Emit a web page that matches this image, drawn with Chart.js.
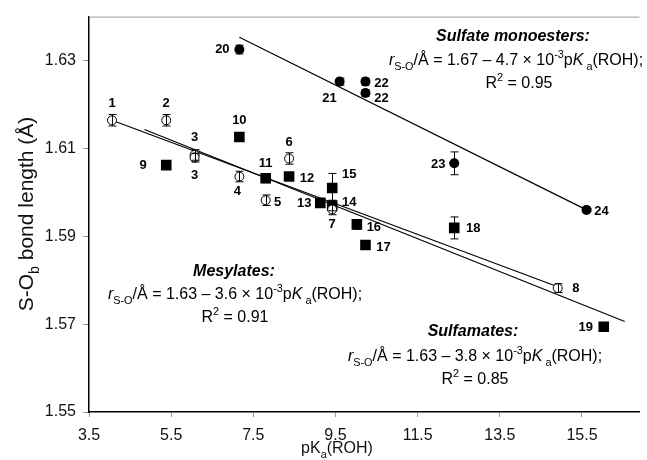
<!DOCTYPE html>
<html><head><meta charset="utf-8">
<script src="https://cdn.jsdelivr.net/npm/chart.js@4.4.1/dist/chart.umd.min.js"></script>
<style>html,body{margin:0;padding:0;background:#fff}#wrap{width:647px;height:460px;position:relative}</style>
</head><body><div id="wrap"><canvas id="c"></canvas></div>
<script>
// ---- data ----
const xTicks = [3.5, 5.5, 7.5, 9.5, 11.5, 13.5, 15.5];
const yTicks = [1.55, 1.57, 1.59, 1.61, 1.63];

// Mesylates (open circles)
const mesLabels = ['1','2','3','3','4','5','6','7','8'];
const mesPKa    = [4.06, 5.38, 6.07, 6.07, 7.16, 7.80, 8.37, 9.42, 14.91];
const mesLen    = [1.6164, 1.6164, 1.6085, 1.6079, 1.6036, 1.5982, 1.6077, 1.5961, 1.5782];
const mesErr    = [0.0013, 0.0013, 0.0012, 0.0010, 0.0012, 0.0012, 0.0013, 0.0012, 0.0010];

// Sulfamates (filled squares)
const sfaLabels = ['9','10','11','12','13','14','15','16','17','18','19'];
const sfaPKa    = [5.38, 7.16, 7.80, 8.37, 9.13, 9.42, 9.42, 10.02, 10.23, 12.39, 16.03];
const sfaLen    = [1.6062, 1.6126, 1.6032, 1.6036, 1.5976, 1.5970, 1.6010, 1.5927, 1.5880, 1.5919, 1.5694];
const sfaErr    = [0.0005, 0.0008, 0.0010, 0.0007, 0.0010, 0.0012, 0.0033, 0.0011, 0.0005, 0.0025, 0.0005];

// Sulfate monoesters (filled circles)
const sulLabels = ['20','21','22','22','23','24'];
const sulPKa    = [7.16, 9.60, 10.23, 10.23, 12.39, 15.61];
const sulLen    = [1.6325, 1.6252, 1.6252, 1.6226, 1.6066, 1.5960];
const sulErr    = [0.0010, 0.0008, 0.0008, 0.0008, 0.0026, 0.0003];

// Regression lines (end points)
const mesFitX = [4.06, 14.91];  const mesFitY = [1.6164, 1.5785];
const sfaFitX = [4.85, 16.54];  const sfaFitY = [1.6143, 1.5706];
const sulFitX = [7.16, 15.61];  const sulFitY = [1.6353, 1.5960];

// ---- label placement (pixel offsets, style only) ----
const mesOff = [[0,-17],[0,-17],[0,-18],[0,18],[-2,15],[12,2],[0,-16],[0,15],[18,0]];
const sfaOff = [[-23,0],[0,-17],[0,-15],[18,2],[-16,1],[17,-3],[17,-14],[17,3],[18,2],[19,1],[-18,1]];
const sulOff = [[-17,0],[-10,17],[16,2],[16,5],[-16,1],[15,2]];

const pts = (xs, ys) => xs.map((x, i) => ({x, y: ys[i]}));
const FONT = '"Liberation Sans", Arial, Helvetica, sans-serif';

function richText(ctx, segs, cx, y, size) {
  let total = 0;
  const items = segs.map(s => {
    const fs = (s.sub || s.sup) ? size * 0.68 : size;
    const font = `${s.i ? 'italic ' : ''}${s.b ? 'bold ' : ''}${fs}px ${FONT}`;
    ctx.font = font;
    const w = ctx.measureText(s.t).width;
    total += w;
    return {s, font, w};
  });
  let x = cx - total / 2;
  ctx.textAlign = 'left';
  ctx.textBaseline = 'alphabetic';
  items.forEach(it => {
    ctx.font = it.font;
    const dy = it.s.sub ? size * 0.3 : it.s.sup ? -size * 0.42 : 0;
    ctx.fillText(it.s.t, x, y + dy);
    x += it.w;
  });
}

function formula(a, b) {
  return [
    {t: 'r', i: true}, {t: 'S-O', sub: true}, {t: '/Å = ' + a + ' – ' + b + ' × 10'},
    {t: '-3', sup: true}, {t: 'p'}, {t: 'K', i: true}, {t: ' a', sub: true}, {t: '(ROH);'}
  ];
}

const overlay = {
  id: 'overlay',
  afterDatasetsDraw(chart) {
    const ctx = chart.ctx, xs = chart.scales.x, ys = chart.scales.y;
    ctx.save();
    ctx.strokeStyle = '#000';
    ctx.lineWidth = 1;
    const groups = [[mesPKa, mesLen, mesErr], [sfaPKa, sfaLen, sfaErr], [sulPKa, sulLen, sulErr]];
    groups.forEach(([px, py, pe]) => {
      px.forEach((v, i) => {
        const x = Math.round(xs.getPixelForValue(v)) + 0.5;
        const y1 = ys.getPixelForValue(py[i] + pe[i]);
        const y2 = ys.getPixelForValue(py[i] - pe[i]);
        ctx.beginPath();
        ctx.moveTo(x, y1); ctx.lineTo(x, y2);
        ctx.moveTo(x - 4, y1); ctx.lineTo(x + 4, y1);
        ctx.moveTo(x - 4, y2); ctx.lineTo(x + 4, y2);
        ctx.stroke();
      });
    });
    ctx.fillStyle = '#000';
    ctx.font = `bold 13px ${FONT}`;
    ctx.textAlign = 'center';
    ctx.textBaseline = 'middle';
    const lab = [[mesPKa, mesLen, mesLabels, mesOff], [sfaPKa, sfaLen, sfaLabels, sfaOff], [sulPKa, sulLen, sulLabels, sulOff]];
    lab.forEach(([px, py, pl, po]) => {
      px.forEach((v, i) => {
        ctx.fillText(pl[i], xs.getPixelForValue(v) + po[i][0], ys.getPixelForValue(py[i]) + po[i][1]);
      });
    });
    ctx.restore();
  },
  afterDraw(chart) {
    const ctx = chart.ctx, a = chart.chartArea;
    ctx.save();
    ctx.strokeStyle = '#9a9a9a';
    ctx.lineWidth = 1;
    ctx.beginPath();
    ctx.moveTo(a.left, a.top + 0.5); ctx.lineTo(a.right, a.top + 0.5);
    ctx.stroke();

    ctx.fillStyle = '#000';
    richText(ctx, [{t: 'Sulfate monoesters:', b: true, i: true}], 513, 41, 16);
    richText(ctx, formula('1.67', '4.7'), 516, 65, 16);
    richText(ctx, [{t: 'R'}, {t: '2', sup: true}, {t: ' = 0.95'}], 519, 88, 16);

    richText(ctx, [{t: 'Mesylates:', b: true, i: true}], 234, 276, 16);
    richText(ctx, formula('1.63', '3.6'), 235, 299, 16);
    richText(ctx, [{t: 'R'}, {t: '2', sup: true}, {t: ' = 0.91'}], 235, 322, 16);

    richText(ctx, [{t: 'Sulfamates:', b: true, i: true}], 473, 336, 16);
    richText(ctx, formula('1.63', '3.8'), 475, 361, 16);
    richText(ctx, [{t: 'R'}, {t: '2', sup: true}, {t: ' = 0.85'}], 475, 384, 16);

    ctx.fillStyle = '#111';
    richText(ctx, [{t: 'pK'}, {t: 'a', sub: true}, {t: '(ROH)'}], 337, 453, 16);
    ctx.translate(33, 214);
    ctx.rotate(-Math.PI / 2);
    richText(ctx, [{t: 'S-O'}, {t: 'b', sub: true}, {t: ' bond length (Å)'}], 0, 0, 21);
    ctx.restore();
  }
};

const lineDS = (xs, ys) => ({
  type: 'line', data: pts(xs, ys), borderColor: '#000', borderWidth: 1.2,
  pointRadius: 0, fill: false, order: 10, tension: 0
});

new Chart(document.getElementById('c'), {
  type: 'scatter',
  data: {
    datasets: [
      lineDS(mesFitX, mesFitY),
      lineDS(sfaFitX, sfaFitY),
      lineDS(sulFitX, sulFitY),
      {label: 'Mesylates', data: pts(mesPKa, mesLen), pointStyle: 'circle', pointRadius: 4.5,
       backgroundColor: '#fff', borderColor: '#000', borderWidth: 1, order: 1},
      {label: 'Sulfamates', data: pts(sfaPKa, sfaLen), pointStyle: 'rect', pointRadius: 7.5,
       backgroundColor: '#000', borderColor: '#000', borderWidth: 0, order: 1},
      {label: 'Sulfate monoesters', data: pts(sulPKa, sulLen), pointStyle: 'circle', pointRadius: 5,
       backgroundColor: '#000', borderColor: '#000', borderWidth: 0, order: 1}
    ]
  },
  options: {
    responsive: true, maintainAspectRatio: false, animation: false,
    layout: {padding: {top: 12, right: 1, left: 0, bottom: 0}},
    plugins: {legend: {display: false}, tooltip: {enabled: false}},
    scales: {
      x: {
        type: 'linear', min: 3.5, max: 16.9,
        afterBuildTicks: s => { s.ticks = xTicks.map(v => ({value: v})); },
        afterFit: s => { s.height = 48; },
        grid: {drawOnChartArea: false, tickLength: 5, color: '#999'},
        border: {color: '#000', width: 1.5},
        ticks: {color: '#111', font: {family: FONT, size: 16}, padding: 9, maxRotation: 0,
                callback: v => Number(v).toFixed(1)}
      },
      y: {
        type: 'linear', min: 1.55, max: 1.64,
        afterBuildTicks: s => { s.ticks = yTicks.map(v => ({value: v})); },
        afterFit: s => { s.width = 89; },
        grid: {drawOnChartArea: false, tickLength: 6, color: '#999'},
        border: {color: '#000', width: 1.5},
        ticks: {color: '#111', font: {family: FONT, size: 16}, padding: 7,
                callback: v => Number(v).toFixed(2)}
      }
    }
  },
  plugins: [overlay]
});
</script>
</body></html>
